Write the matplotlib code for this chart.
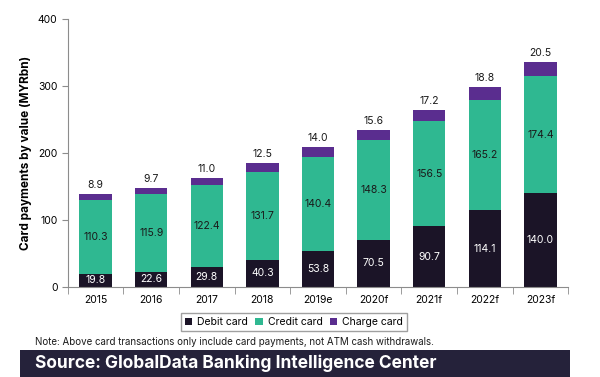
import matplotlib.pyplot as plt
import numpy as np
from matplotlib.patches import Rectangle

years = ["2015", "2016", "2017", "2018", "2019e", "2020f", "2021f", "2022f", "2023f"]
debit = [19.8, 22.6, 29.8, 40.3, 53.8, 70.5, 90.7, 114.1, 140.0]
credit = [110.3, 115.9, 122.4, 131.7, 140.4, 148.3, 156.5, 165.2, 174.4]
charge = [8.9, 9.7, 11.0, 12.5, 14.0, 15.6, 17.2, 18.8, 20.5]

debit_color = "#1b1427"
credit_color = "#2fb891"
charge_color = "#5a2d8f"
spine_color = "#8c8c8c"

plt.rcParams["font.family"] = ["Inter", "DejaVu Sans"]

fig = plt.figure(figsize=(6.0, 3.77), dpi=100)
ax = fig.add_axes([0.113, 0.239, 0.834, 0.711])

x = np.arange(len(years))
width = 0.58
debit_arr = np.array(debit)
credit_arr = np.array(credit)
charge_arr = np.array(charge)

ax.bar(x, debit_arr, width, color=debit_color, label="Debit card")
ax.bar(x, credit_arr, width, bottom=debit_arr, color=credit_color, label="Credit card")
ax.bar(x, charge_arr, width, bottom=debit_arr + credit_arr, color=charge_color, label="Charge card")

for i in range(len(years)):
    ax.text(x[i], debit_arr[i] / 2, f"{debit[i]:.1f}", ha="center", va="center",
            color="white", fontsize=7.5)
    ax.text(x[i], debit_arr[i] + credit_arr[i] / 2, f"{credit[i]:.1f}", ha="center",
            va="center", color="#1a1a1a", fontsize=7.5)
    top = debit_arr[i] + credit_arr[i] + charge_arr[i]
    ax.text(x[i], top + 6, f"{charge[i]:.1f}", ha="center", va="bottom",
            color="#1a1a1a", fontsize=7.5)

ax.set_xlim(-0.5, len(years) - 0.5)
ax.set_ylim(0, 400)
ax.set_yticks([0, 100, 200, 300, 400])
ax.set_xticks(x)
ax.set_xticklabels(years)
ax.set_xticks(np.arange(len(years) + 1) - 0.5, minor=True)
ax.tick_params(axis="x", which="major", length=0, labelsize=7.5, pad=6)
ax.tick_params(axis="x", which="minor", length=5, color=spine_color)
ax.tick_params(axis="y", labelsize=7.5, length=4, color=spine_color)
ax.set_ylabel("Card payments by value (MYRbn)", fontsize=8.5, fontweight="bold", labelpad=4)

for side in ["top", "right"]:
    ax.spines[side].set_visible(False)
for side in ["left", "bottom"]:
    ax.spines[side].set_color(spine_color)

leg = fig.legend(loc="center", bbox_to_anchor=(0.490, 0.146), ncol=3, fontsize=7.5,
                 frameon=True, fancybox=False, edgecolor="#888888",
                 handlelength=0.7, handleheight=0.7, handletextpad=0.5,
                 columnspacing=0.7, borderpad=0.35, borderaxespad=0.3)

fig.text(0.058, 0.093, "Note: Above card transactions only include card payments, not ATM cash withdrawals.",
         fontsize=7, va="center", color="#1a1a1a")

fig.patches.append(Rectangle((0.033, 0.0), 0.917, 0.072, transform=fig.transFigure,
                             facecolor="#25223a", edgecolor="none", zorder=0))
fig.text(0.058, 0.036, "Source: GlobalData Banking Intelligence Center", fontsize=12.5,
         fontweight="bold", color="white", va="center")

fig.savefig("out.png", dpi=100)
